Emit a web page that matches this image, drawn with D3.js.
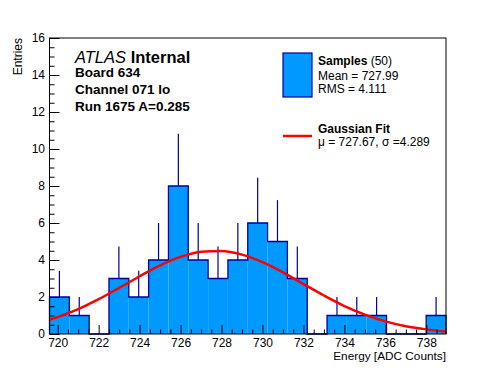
<!DOCTYPE html>
<html>
<head>
<meta charset="utf-8">
<script src="https://cdn.jsdelivr.net/npm/d3@7"></script>
<style>
  body { margin: 0; background: #fff; }
  svg { display: block; font-family: "Liberation Sans", Arial, sans-serif; }
</style>
</head>
<body>
<svg id="chart" width="496" height="372"></svg>
<script>
// Histogram contents (20 bins over the axis range)
const binCounts = [2, 1, 0, 3, 2, 4, 8, 4, 3, 4, 6, 5, 3, 0, 1, 1, 1, 0, 0, 1];
const xRange = [719.6, 738.96];
const yRange = [0, 16];
const sampleCount = 50;

// Gaussian fit curve
const fitX = [719.6, 720, 721, 722, 723, 724, 725, 726, 727, 728, 729, 730, 731, 732, 733, 734, 735, 736, 737, 738, 738.96];
const fitY = [0.77, 0.91, 1.34, 1.88, 2.49, 3.12, 3.71, 4.17, 4.45, 4.49, 4.29, 3.88, 3.33, 2.70, 2.08, 1.51, 1.05, 0.68, 0.42, 0.25, 0.14];

// Ticks
const xMajor = [720, 722, 724, 726, 728, 730, 732, 734, 736, 738];
const yMajor = [0, 2, 4, 6, 8, 10, 12, 14, 16];

// Text
const infoLines = ["Board 634", "Channel 071 lo", "Run 1675 A=0.285"];
const sampleStats = ["Mean = 727.99", "RMS = 4.111"];
const fitStats = "\u03bc = 727.67, \u03c3 =4.289";

const fillColor = "#0099ff";
const lineColor = "#00009c";

const svg = d3.select("#chart");
const margin = { top: 38, left: 49.5, right: 50, bottom: 38 };
const width = 446 - margin.left;
const height = 334 - margin.top;

const g = svg.append("g").attr("transform", `translate(${margin.left},${margin.top})`);

const x = d3.scaleLinear().domain(xRange).range([0, width]);
const y = d3.scaleLinear().domain(yRange).range([height, 0]);

// Bins
const binW = (xRange[1] - xRange[0]) / binCounts.length;
const bins = binCounts.map((n, i) => ({
    x0: xRange[0] + i * binW,
    x1: xRange[0] + (i + 1) * binW,
    n
}));

g.append("defs").append("clipPath").attr("id", "plot-clip")
    .append("rect").attr("width", width).attr("height", height);

// Error bars (drawn first, fill covers lower half)
g.selectAll(".err")
    .data(bins.filter(d => d.n > 0))
    .enter().append("line")
    .attr("class", "err")
    .attr("x1", d => x((d.x0 + d.x1) / 2))
    .attr("x2", d => x((d.x0 + d.x1) / 2))
    .attr("y1", d => y(d.n - Math.sqrt(d.n)))
    .attr("y2", d => y(d.n + Math.sqrt(d.n)))
    .attr("stroke", lineColor)
    .attr("stroke-width", 1.2);

// Filled bins
g.selectAll(".bin")
    .data(bins.filter(d => d.n > 0))
    .enter().append("rect")
    .attr("class", "bin")
    .attr("x", d => x(d.x0))
    .attr("width", d => x(d.x1) - x(d.x0))
    .attr("y", d => y(d.n))
    .attr("height", d => y(0) - y(d.n))
    .attr("fill", fillColor);

// Step outline
const stepPts = [];
bins.forEach(d => { stepPts.push([d.x0, d.n]); stepPts.push([d.x1, d.n]); });
stepPts.unshift([xRange[0], 0]);
stepPts.push([xRange[1], 0]);
g.append("path")
    .datum(stepPts)
    .attr("fill", "none")
    .attr("stroke", lineColor)
    .attr("stroke-width", 1.3)
    .attr("d", d3.line().x(d => x(d[0])).y(d => y(d[1])));

// Fit curve
g.append("path")
    .datum(fitX.map((v, i) => [v, fitY[i]]))
    .attr("clip-path", "url(#plot-clip)")
    .attr("fill", "none")
    .attr("stroke", "#ff0000")
    .attr("stroke-width", 2.5)
    .attr("d", d3.line().x(d => x(d[0])).y(d => y(d[1])).curve(d3.curveMonotoneX));

// Axes, ticks inward
const xMinor = d3.range(720, 739, 0.5).filter(v => !xMajor.includes(v));
const yMinor = d3.range(0, 16, 0.5).filter(v => !yMajor.includes(v));

const styleAxis = sel => sel
    .call(a => a.select(".domain").remove())
    .call(a => a.selectAll("line").attr("stroke", "#000"))
    .call(a => a.selectAll("text").attr("font-size", 12).attr("fill", "#000")
        .attr("font-family", "Liberation Sans, Arial, sans-serif"));

g.append("g").attr("transform", `translate(0,${height})`)
    .call(d3.axisBottom(x).tickValues(xMajor).tickFormat(d3.format("d")).tickSize(-9).tickPadding(4))
    .call(styleAxis);
g.append("g").attr("transform", `translate(0,${height})`)
    .call(d3.axisBottom(x).tickValues(xMinor).tickFormat("").tickSize(-4.5))
    .call(styleAxis);
g.append("g")
    .call(d3.axisLeft(y).tickValues(yMajor).tickFormat(d3.format("d")).tickSize(-10).tickPadding(4.5))
    .call(styleAxis);
g.append("g")
    .call(d3.axisLeft(y).tickValues(yMinor).tickFormat("").tickSize(-5))
    .call(styleAxis);

// Frame
g.append("rect")
    .attr("width", width).attr("height", height)
    .attr("fill", "none").attr("stroke", "#000").attr("stroke-width", 1);

// Axis titles
svg.append("text")
    .attr("x", 446).attr("y", 360)
    .attr("text-anchor", "end")
    .attr("font-size", 11.8)
    .text("Energy [ADC Counts]");
svg.append("text")
    .attr("transform", "translate(22,38) rotate(-90)")
    .attr("text-anchor", "end")
    .attr("font-size", 12)
    .text("Entries");

// ATLAS label
const atlas = svg.append("text").attr("x", 75).attr("y", 63).attr("font-size", 16.5);
atlas.append("tspan").attr("font-style", "italic").text("ATLAS");
atlas.append("tspan").attr("font-weight", "bold").text(" Internal");

svg.selectAll(".info")
    .data(infoLines)
    .enter().append("text")
    .attr("class", "info")
    .attr("x", 75)
    .attr("y", (d, i) => 77 + i * 17)
    .attr("font-size", 13.5)
    .attr("font-weight", "bold")
    .text(d => d);

// Legend
const legend = svg.append("g").attr("font-size", 12);
legend.append("rect")
    .attr("x", 283).attr("y", 53).attr("width", 29).attr("height", 44)
    .attr("fill", fillColor).attr("stroke", lineColor).attr("stroke-width", 1.2);
const samp = legend.append("text").attr("x", 318).attr("y", 65);
samp.append("tspan").attr("font-weight", "bold").text("Samples");
samp.append("tspan").text(` (${sampleCount})`);
legend.selectAll(".stat")
    .data(sampleStats)
    .enter().append("text")
    .attr("class", "stat")
    .attr("x", 318)
    .attr("y", (d, i) => 80 + i * 13)
    .text(d => d);

legend.append("line")
    .attr("x1", 283).attr("x2", 312).attr("y1", 136).attr("y2", 136)
    .attr("stroke", "#ff0000").attr("stroke-width", 2.5);
legend.append("text")
    .attr("x", 318).attr("y", 133)
    .attr("font-weight", "bold")
    .text("Gaussian Fit");
legend.append("text")
    .attr("x", 318).attr("y", 146)
    .text(fitStats);
</script>
</body>
</html>
